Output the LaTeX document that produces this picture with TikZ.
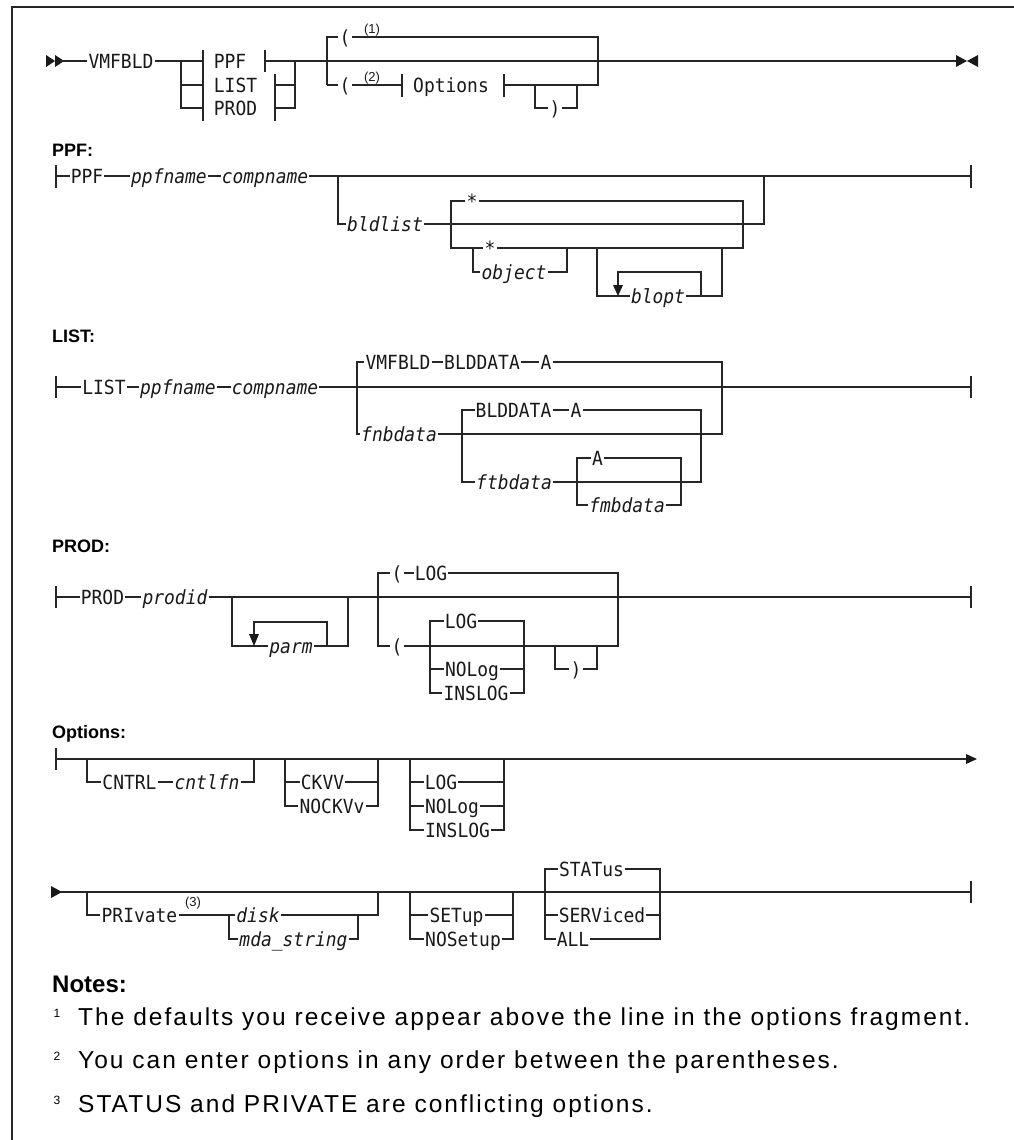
\documentclass[tikz,border=0pt]{standalone}
\usepackage{fontspec}
\setmainfont{Liberation Sans}
\newfontfamily\rrfont[FakeStretch=0.92]{DejaVu Sans Mono}
\begin{document}
\begin{tikzpicture}[x=1pt,y=-1pt,
  rail/.style={line width=1.3pt, draw=black!85},
  tip/.style={fill=black!90},
  kw/.style={anchor=center, fill=white, inner xsep=1.2pt, inner ysep=0pt, text height=14.2pt, text depth=0pt,
     text=black!90, font=\rrfont\fontsize{19.5}{21}\selectfont},
  kwi/.style={kw, font=\rrfont\itshape\fontsize{19.5}{21}\selectfont},
  supnum/.style={inner sep=0pt, text=black!90, font=\fontsize{13}{14}\selectfont},
  hdr/.style={anchor=base west, inner sep=0pt, font=\bfseries\fontsize{18}{20}\selectfont},
  notetxt/.style={anchor=base west, inner sep=0pt, font=\fontsize{24.5}{26}\selectfont\addfontfeature{LetterSpace=8.3}},
  notenum/.style={inner sep=0pt, font=\fontsize{12}{13}\selectfont}]
\useasboundingbox (0,0) rectangle (1014,1140);
% frame
\draw[line width=1.6pt, black!85] (12,1140) -- (12,7) -- (1014,7);

% ================= MAIN =================
\fill[tip] (46,55) -- (55,61) -- (46,67) -- cycle;
\fill[tip] (55,55) -- (64,61) -- (55,67) -- cycle;
\draw[rail] (60,61) -- (203,61);
\draw[rail] (181,61) -- (181,108) -- (203,108);
\draw[rail] (181,85) -- (203,85);
\draw[rail] (203,50) -- (203,121);
\draw[rail] (265,50) -- (265,72);
\draw[rail] (275,74) -- (275,121);
\draw[rail] (265,61) -- (957,61);
\draw[rail] (275,85) -- (295,85);
\draw[rail] (275,108) -- (295,108) -- (295,61);
\draw[rail] (327,85) -- (327,37) -- (598,37) -- (598,85) -- (504,85);
\draw[rail] (327,85) -- (402,85);
\draw[rail] (402,74) -- (402,97);
\draw[rail] (504,74) -- (504,97);
\draw[rail] (535,85) -- (535,108) -- (577,108) -- (577,85);
\fill[tip] (956,55) -- (967,61) -- (956,67) -- cycle;
\fill[tip] (978,55) -- (967,61) -- (978,67) -- cycle;
\node[kw] (mvmf) at (121,61) {VMFBLD};
\node[kw] (mppf) at (230,61) {PPF};
\node[kw] (mlist) at (235.5,85) {LIST};
\node[kw] (mprod) at (235.5,108) {PROD};
\node[kw] (mlp1) at (345,37) {(};
\node[supnum] (mn1) at (372,30) {(1)};
\node[kw] (mlp2) at (345,85) {(};
\node[supnum] (mn2) at (372,78) {(2)};
\node[kw] (mopt) at (451,85) {Options};
\node[kw] (mrp) at (555,108) {)};

% ================= PPF =================
\node[hdr] (hppf) at (52,156) {PPF:};
\draw[rail] (56,165) -- (56,188);
\draw[rail] (56,176) -- (971,176);
\draw[rail] (971,165) -- (971,188);
\draw[rail] (338,176) -- (338,224) -- (764,224) -- (764,176);
\draw[rail] (451,201) -- (451,248) -- (743,248) -- (743,201) -- cycle;
\draw[rail] (473,248) -- (473,272) -- (567,272) -- (567,248);
\draw[rail] (597,248) -- (597,296) -- (722,296) -- (722,248);
\draw[rail] (618,286) -- (618,272) -- (701,272) -- (701,296);
\fill[tip] (613,285) -- (623,285) -- (618,296) -- cycle;
\node[kw] (pppf) at (87,176) {PPF};
\node[kwi] (pppfn) at (169,176) {ppfname};
\node[kwi] (pcomp) at (265,176) {compname};
\node[kwi] (pbld) at (385,224) {bldlist};
\node[kw] (past1) at (472,201) {*};
\node[kw] (past2) at (490,248) {*};
\node[kwi] (pobj) at (514,272) {object};
\node[kwi] (pblopt) at (658,296) {blopt};

% ================= LIST =================
\node[hdr] (hlist) at (52,342) {LIST:};
\draw[rail] (56,376) -- (56,398);
\draw[rail] (56,387) -- (971,387);
\draw[rail] (971,376) -- (971,398);
\draw[rail] (357,362) -- (357,434) -- (722,434) -- (722,362) -- cycle;
\draw[rail] (462,410) -- (462,482) -- (701,482) -- (701,410) -- cycle;
\draw[rail] (577,458) -- (577,505) -- (681,505) -- (681,458) -- cycle;
\node[kw] (llist) at (104,387) {LIST};
\node[kwi] (lppfn) at (178,387) {ppfname};
\node[kwi] (lcomp) at (275,387) {compname};
\node[kw] (lvmf) at (398,362) {VMFBLD};
\node[kw] (lbld1) at (482,362) {BLDDATA};
\node[kw] (la1) at (546,362) {A};
\node[kwi] (lfnb) at (399,434) {fnbdata};
\node[kw] (lbld2) at (513.5,410) {BLDDATA};
\node[kw] (la2) at (576,410) {A};
\node[kwi] (lftb) at (514,482) {ftbdata};
\node[kw] (la3) at (597.5,458) {A};
\node[kwi] (lfmb) at (627,505) {fmbdata};

% ================= PROD =================
\node[hdr] (hprod) at (52,552) {PROD:};
\draw[rail] (56,586) -- (56,608);
\draw[rail] (56,597) -- (971,597);
\draw[rail] (971,586) -- (971,608);
\draw[rail] (232,597) -- (232,646) -- (348,646) -- (348,597);
\draw[rail] (254,635) -- (254,622) -- (327,622) -- (327,646);
\fill[tip] (249,634) -- (259,634) -- (254,646) -- cycle;
\draw[rail] (378,573) -- (378,646) -- (618,646) -- (618,573) -- cycle;
\draw[rail] (430,621) -- (430,693) -- (524,693) -- (524,621) -- cycle;
\draw[rail] (430,669) -- (524,669);
\draw[rail] (555,646) -- (555,669) -- (597,669) -- (597,646);
\node[kw] (rprod) at (102.5,597) {PROD};
\node[kwi] (rprodid) at (175,597) {prodid};
\node[kwi] (rparm) at (291,646) {parm};
\node[kw] (rlp1) at (397,573) {(};
\node[kw] (rlog1) at (431,573) {LOG};
\node[kw] (rlp2) at (397,646) {(};
\node[kw] (rlog2) at (461,621) {LOG};
\node[kw] (rnolog) at (472,669) {NOLog};
\node[kw] (rinslog) at (476,693) {INSLOG};
\node[kw] (rrp) at (576,669) {)};

% ================= Options =================
\node[hdr] (hopt) at (52,738) {Options:};
\draw[rail] (56,748) -- (56,770);
\draw[rail] (56,759) -- (968,759);
\fill[tip] (966,754) -- (977,759) -- (966,764) -- cycle;
\draw[rail] (87,759) -- (87,782) -- (254,782) -- (254,759);
\draw[rail] (285,759) -- (285,806) -- (378,806) -- (378,759);
\draw[rail] (285,782) -- (378,782);
\draw[rail] (410,759) -- (410,830) -- (504,830) -- (504,759);
\draw[rail] (410,782) -- (504,782);
\draw[rail] (410,806) -- (504,806);
\node[kw] (ocntrl) at (129.5,782) {CNTRL};
\node[kwi] (ocntl) at (207,782) {cntlfn};
\node[kw] (ockvv) at (322.5,782) {CKVV};
\node[kw] (onockvv) at (332,806) {NOCKVv};
\node[kw] (olog) at (441,782) {LOG};
\node[kw] (onolog) at (452,806) {NOLog};
\node[kw] (oinslog) at (457.5,830) {INSLOG};

\fill[tip] (51,886) -- (62,892) -- (51,898) -- cycle;
\draw[rail] (60,892) -- (971,892);
\draw[rail] (971,881) -- (971,903);
\draw[rail] (87,892) -- (87,915) -- (378,915) -- (378,892);
\draw[rail] (229,915) -- (229,939) -- (358,939) -- (358,915);
\draw[rail] (410,892) -- (410,939) -- (513,939) -- (513,892);
\draw[rail] (410,915) -- (513,915);
\draw[rail] (545,869) -- (545,939) -- (660,939) -- (660,869) -- cycle;
\draw[rail] (545,915) -- (660,915);
\node[kw] (opriv) at (139.5,915) {PRIvate};
\node[supnum] (on3) at (193,903) {(3)};
\node[kwi] (odisk) at (258,915) {disk};
\node[kwi] (omda) at (293.5,939) {mda\_string};
\node[kw] (osetup) at (456.5,915) {SETup};
\node[kw] (onosetup) at (463,939) {NOSetup};
\node[kw] (ostat) at (591.5,869) {STATus};
\node[kw] (oserv) at (602,915) {SERViced};
\node[kw] (oall) at (573,939) {ALL};

% ================= Notes =================
\node[hdr, font=\bfseries\fontsize{24}{26}\selectfont] (hnotes) at (52,992) {Notes:};
\node[notenum] (n1n) at (57,1013) {1};
\node[notetxt] (n1) at (78,1025) {The defaults you receive appear above the line in the options fragment.};
\node[notenum] (n2n) at (57,1056) {2};
\node[notetxt] (n2) at (78,1068) {You can enter options in any order between the parentheses.};
\node[notenum] (n3n) at (57,1100) {3};
\node[notetxt] (n3) at (78,1112) {STATUS and PRIVATE are conflicting options.};
\end{tikzpicture}
\end{document}
